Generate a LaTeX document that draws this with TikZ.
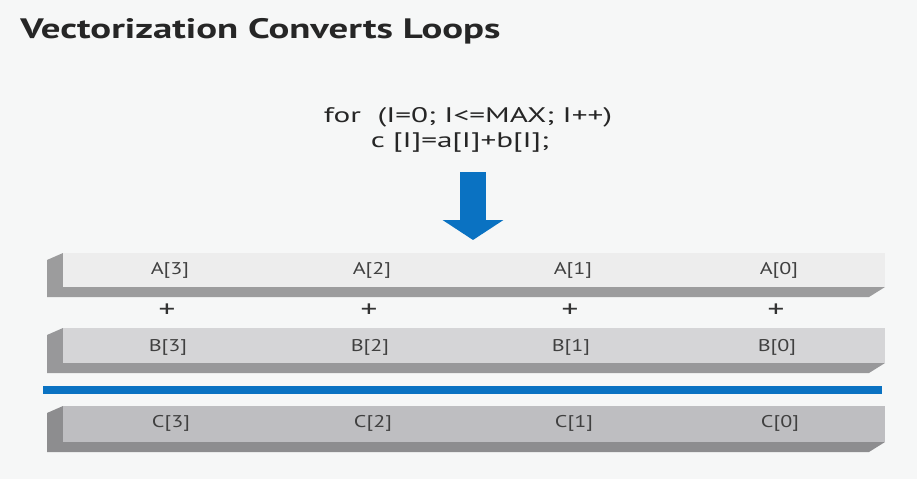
\documentclass[tikz,border=0pt]{standalone}
\usepackage{fontspec}
\setmainfont{PT Sans}
\usetikzlibrary{arrows.meta}

\definecolor{bgpage}{HTML}{F6F7F7}
\definecolor{vecblue}{HTML}{0A72C2}
\definecolor{faceA}{HTML}{EDEDED}
\definecolor{faceB}{HTML}{D5D5D7}
\definecolor{faceC}{HTML}{BEBEC1}
\definecolor{edgeA}{HTML}{9C9C9D}
\definecolor{edgeB}{HTML}{98989A}
\definecolor{edgeC}{HTML}{8D8D8F}
\definecolor{labelgray}{HTML}{404040}

\tikzset{
  lane/.style={font=\fontsize{14.5}{16}\selectfont, text=labelgray, inner sep=0pt, xscale=1.3},
  sumsign/.style={font=\fontsize{21}{22}\selectfont, text=black!80, inner sep=0pt, xscale=1.35},
  codeline/.style={font=\fontsize{18}{20}\selectfont, text=black!85, inner sep=0pt, xscale=1.48},
}

\begin{document}
\begin{tikzpicture}[x=0.03cm, y=-0.03cm]
  % page
  \fill[bgpage] (0,0) rectangle (917,479);
  \useasboundingbox (0,0) rectangle (917,479);
  % title and loop code
  \node[anchor=west, inner sep=0pt, xscale=1.38, font=\bfseries\fontsize{24}{26}\selectfont, text=black!85] (title) at (20,31) {Vectorization Converts Loops};
  \node[codeline] (loop) at (468,117) {for\ \ (I=0; I<=MAX; I++)};
  \node[codeline] (body) at (460,143) {c [I]=a[I]+b[I];};
  % big arrow down to the registers
  \coordinate (arrowtop) at (473,172);
  \coordinate (arrowtip) at (473,240);
  \draw[vecblue, line width=22pt, -{Triangle[length=17pt, width=51pt]}] (arrowtop) -- (arrowtip);
  % registers: raised face with a dark edge on the left and bottom
  \foreach \t/\b/\f/\e in {253/287/faceA/edgeA, 328/363/faceB/edgeB, 406/442/faceC/edgeC} {
    \fill[\e] (47,\t+7) -- (63,\t) -- (63,\b) -- (885,\b) -- (869,\b+10) -- (47,\b+10) -- cycle;
    \fill[\f] (63,\t) rectangle (885,\b);
  }
  % result separator
  \fill[vecblue] (43,386) rectangle (882,394);
  % lane labels
  \foreach \i/\x in {3/170, 2/372, 1/573, 0/779} {
    \node[lane] (a\i) at (\x,270) {A[\i]};
    \node[sumsign] (plus\i) at (\x-3,311) {+};
    \node[lane] (b\i) at (\x-2,347) {B[\i]};
    \node[lane] (c\i) at (\x+1,423) {C[\i]};
  }
\end{tikzpicture}
\end{document}
